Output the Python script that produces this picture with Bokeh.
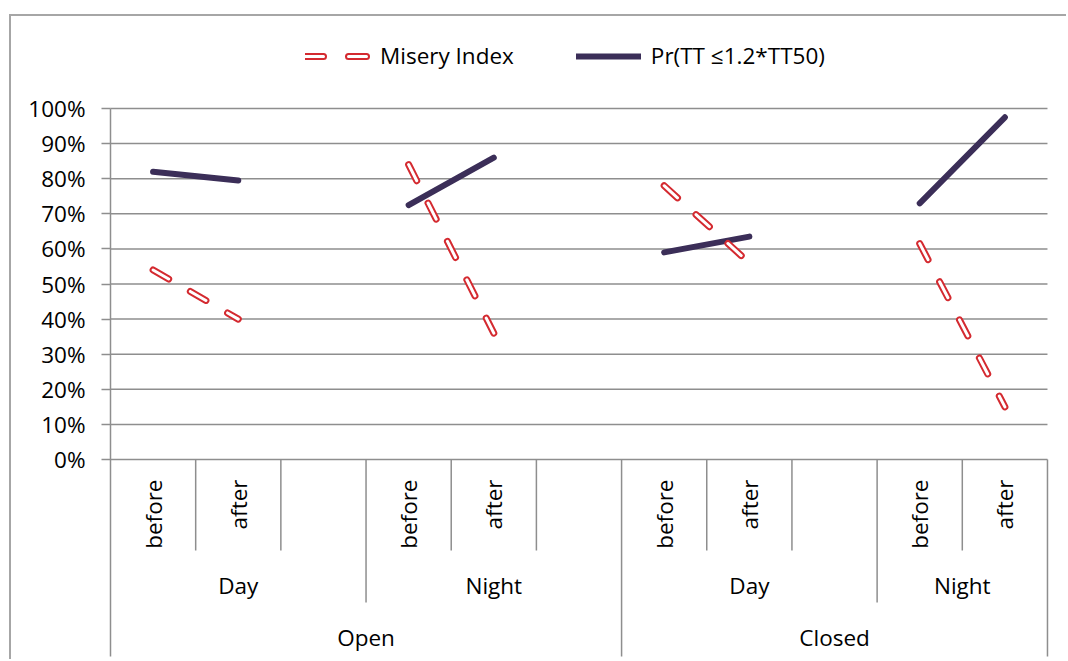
import numpy as np
from bokeh.plotting import figure
from bokeh.models import (FixedTicker, NumeralTickFormatter, Legend, LegendItem, Range1d)
from bokeh.core.properties import value
from bokeh.embed import file_html
from bokeh.resources import INLINE

# ---------------- data ----------------
sub_labels = ["before", "after", "", "before", "after", "", "before", "after", "", "before", "after"]
mid_labels = ["Day", "Day", "Day", "Night", "Night", "Night", "Day", "Day", "Day", "Night", "Night"]
top_labels = ["Open"] * 6 + ["Closed"] * 5
misery = [0.54, 0.40, None, 0.84, 0.36, None, 0.78, 0.56, None, 0.615, 0.15]
pr_tt = [0.82, 0.795, None, 0.725, 0.86, None, 0.59, 0.635, None, 0.73, 0.975]
y_ticks = [0.0, 0.1, 0.2, 0.3, 0.4, 0.5, 0.6, 0.7, 0.8, 0.9, 1.0]
series_names = ["Misery Index", "Pr(TT \u22641.2*TT50)"]

# ---------------- style ----------------
FONT = "Open Sans"
FS = "22.5px"
TXT = "#000000"
GRID = "#8e8e8e"
RED = "#d42a30"
PURPLE = "#3b2e58"
FRAME_LINE = "#a6a6a6"

n = len(sub_labels)
xs = np.arange(n) + 0.5
mis = np.array([np.nan if v is None else v for v in misery], dtype=float)
prv = np.array([np.nan if v is None else v for v in pr_tt], dtype=float)

W, H = 1066, 659
PX = 85.18          # px per category slot
PY = 351.0          # px per 1.0 on y
AXIS_X = 110        # page x of the category axis origin
frame_left, frame_right = 106, 1049
frame_top, frame_bottom = 18, 656
zero_px = 459
y_end = (zero_px - frame_top) / PY
y_start = -(frame_bottom - zero_px) / PY
x_start = -(AXIS_X - frame_left) / PX
x_end = x_start + (frame_right - frame_left) / PX

p = figure(width=W, height=H, output_backend="svg", toolbar_location=None,
           x_range=Range1d(x_start, x_end), y_range=Range1d(y_start, y_end),
           x_axis_location=None, y_axis_location="left",
           min_border_left=frame_left, min_border_right=W - frame_right,
           min_border_top=frame_top, min_border_bottom=H - frame_bottom,
           styles={
               "background-color": "white",
               "background-image": f"linear-gradient({FRAME_LINE},{FRAME_LINE}), linear-gradient({FRAME_LINE},{FRAME_LINE})",
               "background-size": "100% 2px, 2px 100%",
               "background-position": "10px 14px, 9px 14px",
               "background-repeat": "no-repeat",
           })
p.outline_line_color = None
p.background_fill_color = "white"
p.border_fill_alpha = 0

ax = p.yaxis[0]
ax.ticker = FixedTicker(ticks=y_ticks)
ax.formatter = NumeralTickFormatter(format="0%")
ax.axis_line_color = None
ax.major_tick_line_color = GRID
ax.major_tick_line_width = 1.5
ax.major_tick_out = 5
ax.major_tick_in = 4
ax.minor_tick_line_color = None
ax.major_label_standoff = 16
ax.major_label_text_font = FONT
ax.major_label_text_font_size = FS
ax.major_label_text_color = TXT

p.xgrid.visible = False
p.ygrid.ticker = FixedTicker(ticks=y_ticks)
p.ygrid.grid_line_color = None

# gridlines from 0 to the category-axis right end
p.segment(x0=[0] * len(y_ticks), y0=y_ticks, x1=[n] * len(y_ticks), y1=y_ticks,
          line_color=GRID, line_width=1.5)

# ---------------- category table ----------------
Y_SUB = (zero_px - 550) / PY
Y_MID = (zero_px - 602) / PY
Y_TOP = y_start - 0.05
sx, sy0, sy1 = [0], [max(y_ticks)], [Y_TOP]
for b in range(1, n + 1):
    if b == n or top_labels[b - 1] != top_labels[b]:
        lvl = Y_TOP
    elif mid_labels[b - 1] != mid_labels[b]:
        lvl = Y_MID
    else:
        lvl = Y_SUB
    sx.append(b)
    sy0.append(0.0)
    sy1.append(lvl)
p.segment(x0=sx, y0=sy0, x1=sx, y1=sy1, line_color=GRID, line_width=1.5)

def runs(keys):
    out = []
    start = 0
    for i in range(1, len(keys) + 1):
        if i == len(keys) or keys[i] != keys[start]:
            out.append((start, i))
            start = i
    return out

mid_keys = list(zip(top_labels, mid_labels))
mid_runs = runs(mid_keys)
top_runs = runs(top_labels)

sub_idx = [i for i, s in enumerate(sub_labels) if s]
p.text(x=[xs[i] for i in sub_idx], y=[(zero_px - 479) / PY] * len(sub_idx),
       text=[sub_labels[i] for i in sub_idx], angle=np.pi / 2,
       text_align="right", text_baseline="middle",
       text_font=value(FONT), text_font_size=value(FS), text_color=TXT)
p.text(x=[(a + b) / 2 for a, b in mid_runs], y=[(zero_px - 585) / PY] * len(mid_runs),
       text=[mid_keys[a][1] for a, b in mid_runs],
       text_align="center", text_baseline="middle",
       text_font=value(FONT), text_font_size=value(FS), text_color=TXT)
p.text(x=[(a + b) / 2 for a, b in top_runs], y=[(zero_px - 637) / PY] * len(top_runs),
       text=[top_labels[a] for a, b in top_runs],
       text_align="center", text_baseline="middle",
       text_font=value(FONT), text_font_size=value(FS), text_color=TXT)

# ---------------- series ----------------
pr_line = p.line(xs, prv, line_color=PURPLE, line_width=6, line_cap="round")
red_line = p.line(xs, mis, line_color=RED, line_width=7, line_dash="18 25", line_cap="round")
white_line = p.line(xs, mis, line_color="white", line_width=3, line_dash="18 25", line_cap="round")

legend = Legend(items=[LegendItem(label=series_names[0], renderers=[red_line, white_line]),
                       LegendItem(label=series_names[1], renderers=[pr_line])],
                orientation="horizontal", location=(305 - frame_left, frame_bottom - 71),
                glyph_width=65, glyph_height=20, label_standoff=10, spacing=62,
                padding=0, margin=0, border_line_color=None, background_fill_alpha=0,
                label_text_font=FONT, label_text_font_size=FS, label_text_color=TXT)
p.add_layout(legend, "center")

open("out.html", "w").write(file_html(p, INLINE))
